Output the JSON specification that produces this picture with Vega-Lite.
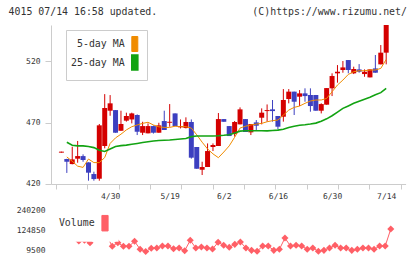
{
  "$schema": "https://vega.github.io/schema/vega-lite/v6.json",
  "background": "white",
  "padding": {"left": 8, "top": 6, "right": 5, "bottom": 2},
  "title": {
    "text": "4015 07/14 16:58 updated.\u00a0\u00a0\u00a0\u00a0\u00a0\u00a0\u00a0\u00a0\u00a0\u00a0\u00a0\u00a0\u00a0\u00a0\u00a0\u00a0(C)https://www.rizumu.net/",
    "anchor": "start",
    "font": "DejaVu Sans Mono",
    "fontSize": 9.9,
    "fontWeight": "normal",
    "color": "#333333",
    "offset": 8,
    "dx": -7.5
  },
  "datasets": {
    "candles": [
      {"i":0,"o":445.5,"c":446.3,"h":446.3,"l":445.5},
      {"i":1,"o":440.3,"c":438.1,"h":440.5,"l":429.0},
      {"i":2,"o":436.2,"c":440.0,"h":450.3,"l":436.0},
      {"i":3,"o":440.6,"c":442.7,"h":455.0,"l":437.3},
      {"i":4,"o":442.7,"c":439.5,"h":444.1,"l":438.1},
      {"i":5,"o":437.6,"c":429.2,"h":437.6,"l":422.7},
      {"i":6,"o":428.1,"c":424.0,"h":430.0,"l":422.7},
      {"i":7,"o":424.3,"c":467.7,"h":468.8,"l":422.7},
      {"i":8,"o":450.9,"c":481.8,"h":493.1,"l":449.0},
      {"i":9,"o":479.6,"c":485.6,"h":492.3,"l":475.5},
      {"i":10,"o":480.1,"c":461.7,"h":480.1,"l":461.7},
      {"i":11,"o":463.3,"c":468.8,"h":479.6,"l":463.3},
      {"i":12,"o":471.5,"c":475.3,"h":478.0,"l":470.7},
      {"i":13,"o":472.5,"c":477.4,"h":478.0,"l":469.3},
      {"i":14,"o":476.1,"c":462.5,"h":476.6,"l":459.8},
      {"i":15,"o":461.7,"c":467.1,"h":470.6,"l":459.8},
      {"i":16,"o":461.2,"c":467.1,"h":469.3,"l":461.2},
      {"i":17,"o":467.1,"c":461.7,"h":467.6,"l":461.0},
      {"i":18,"o":461.7,"c":467.7,"h":469.8,"l":461.7},
      {"i":19,"o":471.2,"c":463.9,"h":479.6,"l":463.9},
      {"i":20,"o":469.8,"c":470.6,"h":485.0,"l":466.6},
      {"i":21,"o":477.4,"c":467.1,"h":477.4,"l":467.1},
      {"i":22,"o":466.1,"c":467.1,"h":472.5,"l":465.2},
      {"i":23,"o":465.5,"c":470.4,"h":474.2,"l":465.2},
      {"i":24,"o":470.4,"c":441.4,"h":472.5,"l":440.6},
      {"i":25,"o":450.1,"c":432.4,"h":450.1,"l":432.4},
      {"i":26,"o":431.6,"c":433.8,"h":438.1,"l":427.3},
      {"i":27,"o":433.8,"c":446.8,"h":453.0,"l":433.8},
      {"i":28,"o":450.1,"c":451.7,"h":453.0,"l":446.8},
      {"i":29,"o":450.9,"c":472.8,"h":477.7,"l":450.9},
      {"i":30,"o":472.8,"c":470.6,"h":472.8,"l":470.6},
      {"i":31,"o":467.1,"c":459.0,"h":467.1,"l":459.0},
      {"i":32,"o":460.6,"c":470.4,"h":471.2,"l":458.5},
      {"i":33,"o":468.5,"c":480.7,"h":482.3,"l":468.5},
      {"i":34,"o":472.8,"c":462.3,"h":472.8,"l":462.3},
      {"i":35,"o":462.0,"c":468.8,"h":468.8,"l":459.8},
      {"i":36,"o":470.1,"c":467.4,"h":472.0,"l":463.9},
      {"i":37,"o":473.9,"c":478.0,"h":481.5,"l":468.5},
      {"i":38,"o":479.3,"c":480.1,"h":484.7,"l":470.7},
      {"i":39,"o":480.7,"c":479.3,"h":488.3,"l":470.7},
      {"i":40,"o":475.3,"c":466.6,"h":475.3,"l":464.4},
      {"i":41,"o":474.7,"c":488.3,"h":497.2,"l":470.7},
      {"i":42,"o":489.1,"c":495.1,"h":497.2,"l":485.6},
      {"i":43,"o":495.1,"c":486.9,"h":495.1,"l":476.1},
      {"i":44,"o":491.0,"c":493.7,"h":496.4,"l":483.4},
      {"i":45,"o":493.7,"c":491.5,"h":497.8,"l":486.9},
      {"i":46,"o":492.4,"c":483.4,"h":497.8,"l":478.8},
      {"i":47,"o":492.4,"c":479.6,"h":492.4,"l":479.6},
      {"i":48,"o":479.6,"c":485.0,"h":485.6,"l":477.4},
      {"i":49,"o":484.5,"c":498.0,"h":498.0,"l":484.5},
      {"i":50,"o":497.8,"c":507.8,"h":510.0,"l":491.5},
      {"i":51,"o":510.0,"c":511.3,"h":516.7,"l":502.4},
      {"i":52,"o":512.7,"c":514.8,"h":520.0,"l":510.5},
      {"i":53,"o":520.8,"c":512.7,"h":520.8,"l":510.0},
      {"i":54,"o":510.0,"c":513.5,"h":515.4,"l":509.4},
      {"i":55,"o":513.2,"c":511.3,"h":517.5,"l":510.5},
      {"i":56,"o":509.4,"c":511.3,"h":513.2,"l":507.2},
      {"i":57,"o":506.7,"c":513.2,"h":513.2,"l":506.7},
      {"i":58,"o":514.0,"c":510.5,"h":524.9,"l":510.5},
      {"i":59,"o":517.3,"c":526.8,"h":533.0,"l":517.3},
      {"i":60,"o":526.8,"c":549.3,"h":549.3,"l":517.3}
    ],
    "ma": [
      {"i":1,"5-day MA":442,"25-day MA":453.9},
      {"i":2,"5-day MA":438.5,"25-day MA":451.5},
      {"i":3,"5-day MA":434.5,"25-day MA":451},
      {"i":4,"5-day MA":433.5,"25-day MA":451},
      {"i":5,"5-day MA":440.3,"25-day MA":450.5},
      {"i":6,"5-day MA":437.4,"25-day MA":449.6},
      {"i":7,"5-day MA":437.4,"25-day MA":447.5},
      {"i":8,"5-day MA":441.5,"25-day MA":446.5},
      {"i":9,"5-day MA":453,"25-day MA":448.5},
      {"i":10,"5-day MA":457.5,"25-day MA":450.5},
      {"i":11,"5-day MA":460.5,"25-day MA":451.2},
      {"i":12,"5-day MA":464,"25-day MA":451.6},
      {"i":13,"5-day MA":466.6,"25-day MA":452.3},
      {"i":14,"5-day MA":468,"25-day MA":453},
      {"i":15,"5-day MA":469.3,"25-day MA":453.8},
      {"i":16,"5-day MA":470.2,"25-day MA":454.4},
      {"i":17,"5-day MA":468,"25-day MA":455},
      {"i":18,"5-day MA":466.5,"25-day MA":455.4},
      {"i":19,"5-day MA":466,"25-day MA":455.6},
      {"i":20,"5-day MA":466,"25-day MA":455.8},
      {"i":21,"5-day MA":467,"25-day MA":456.2},
      {"i":22,"5-day MA":466.6,"25-day MA":456.6},
      {"i":23,"5-day MA":466.6,"25-day MA":457},
      {"i":24,"5-day MA":465.5,"25-day MA":458.5},
      {"i":25,"5-day MA":460,"25-day MA":459},
      {"i":26,"5-day MA":454,"25-day MA":459},
      {"i":27,"5-day MA":448.5,"25-day MA":459},
      {"i":28,"5-day MA":444.5,"25-day MA":459},
      {"i":29,"5-day MA":441.4,"25-day MA":459.2},
      {"i":30,"5-day MA":446,"25-day MA":459.6},
      {"i":31,"5-day MA":451,"25-day MA":460.1},
      {"i":32,"5-day MA":458,"25-day MA":461.5},
      {"i":33,"5-day MA":465.5,"25-day MA":463},
      {"i":34,"5-day MA":467,"25-day MA":463.3},
      {"i":35,"5-day MA":468,"25-day MA":463.3},
      {"i":36,"5-day MA":468.7,"25-day MA":463.3},
      {"i":37,"5-day MA":469.3,"25-day MA":463.3},
      {"i":38,"5-day MA":470.6,"25-day MA":463.2},
      {"i":39,"5-day MA":471.5,"25-day MA":463.5},
      {"i":40,"5-day MA":472,"25-day MA":463.8},
      {"i":41,"5-day MA":476,"25-day MA":464.5},
      {"i":42,"5-day MA":480.1,"25-day MA":466},
      {"i":43,"5-day MA":482.3,"25-day MA":467},
      {"i":44,"5-day MA":483.4,"25-day MA":467.8},
      {"i":45,"5-day MA":485.6,"25-day MA":468.2},
      {"i":46,"5-day MA":487.5,"25-day MA":468.8},
      {"i":47,"5-day MA":488.3,"25-day MA":469.5},
      {"i":48,"5-day MA":488.3,"25-day MA":471},
      {"i":49,"5-day MA":489.6,"25-day MA":473},
      {"i":50,"5-day MA":495,"25-day MA":475.5},
      {"i":51,"5-day MA":500.5,"25-day MA":478.5},
      {"i":52,"5-day MA":504.5,"25-day MA":481.5},
      {"i":53,"5-day MA":509.1,"25-day MA":483.5},
      {"i":54,"5-day MA":511.3,"25-day MA":485.6},
      {"i":55,"5-day MA":512.1,"25-day MA":487.3},
      {"i":56,"5-day MA":512.1,"25-day MA":489},
      {"i":57,"5-day MA":512.7,"25-day MA":490.5},
      {"i":58,"5-day MA":512.7,"25-day MA":492.5},
      {"i":59,"5-day MA":514,"25-day MA":494.3},
      {"i":60,"5-day MA":521.3,"25-day MA":497.7}
    ],
    "vol": [
      {"i":0,"v":130000},{"i":1,"v":125000},{"i":2,"v":97000},{"i":3,"v":97000},
      {"i":4,"v":67200},{"i":5,"v":71200},{"i":6,"v":57400},{"i":7,"v":230000},
      {"i":8,"v":200000},{"i":9,"v":97000},{"i":10,"v":36600},{"i":11,"v":57400},
      {"i":12,"v":36600},{"i":13,"v":36600},{"i":14,"v":65400},{"i":15,"v":19300},
      {"i":16,"v":6500},{"i":17,"v":25100},{"i":18,"v":26800},{"i":19,"v":38300},
      {"i":20,"v":38300},{"i":21,"v":22800},{"i":22,"v":26800},{"i":23,"v":11200},
      {"i":24,"v":71200},{"i":25,"v":26800},{"i":26,"v":32600},{"i":27,"v":26800},
      {"i":28,"v":21000},{"i":29,"v":59700},{"i":30,"v":42400},{"i":31,"v":30700},
      {"i":32,"v":47900},{"i":33,"v":61400},{"i":34,"v":26800},{"i":35,"v":13300},
      {"i":36,"v":7600},{"i":37,"v":38300},{"i":38,"v":38300},{"i":39,"v":13300},
      {"i":40,"v":19100},{"i":41,"v":84500},{"i":42,"v":38300},{"i":43,"v":42200},
      {"i":44,"v":38300},{"i":45,"v":19100},{"i":46,"v":26800},{"i":47,"v":7600},
      {"i":48,"v":13300},{"i":49,"v":26800},{"i":50,"v":42200},{"i":51,"v":26800},
      {"i":52,"v":26800},{"i":53,"v":13300},{"i":54,"v":19100},{"i":55,"v":26800},
      {"i":56,"v":26800},{"i":57,"v":19100},{"i":58,"v":38300},{"i":59,"v":38300},
      {"i":60,"v":136000}
    ]
  },
  "spacing": 5,
  "vconcat": [
    {
      "width": 354.6,
      "height": 159,
      "resolve": {"axis": {"x": "independent"}},
      "layer": [
        {
          "data": {"name": "candles"},
          "mark": {"type": "rule", "strokeWidth": 1},
          "encoding": {
            "x": {
              "field": "i", "type": "quantitative",
              "scale": {"domain": [-1, 62.66], "nice": false, "zero": false},
              "axis": {
                "orient": "bottom",
                "values": [-1, 4.787, 10.575, 16.362, 22.149, 27.936, 33.724, 39.511, 45.298, 51.085, 56.873, 62.66],
                "labels": false,
                "tickSize": 5,
                "title": null
              }
            },
            "y": {
              "field": "l", "type": "quantitative",
              "scale": {"domain": [420, 549.3], "nice": false, "zero": false},
              "axis": {"values": [420, 470, 520], "tickSize": 6, "labelPadding": 5, "title": null}
            },
            "y2": {"field": "h"},
            "color": {"condition": {"test": "datum.c >= datum.o", "value": "#d40000"}, "value": "#3c3fc0"}
          }
        },
        {
          "data": {"name": "candles"},
          "mark": {"type": "bar", "size": 5},
          "encoding": {
            "x": {
              "field": "i", "type": "quantitative",
              "axis": {
                "orient": "bottom",
                "values": [9, 20, 30, 40, 50, 60],
                "labelExpr": "datum.value == 9 ? '4/30' : datum.value == 20 ? '5/19' : datum.value == 30 ? '6/2' : datum.value == 40 ? '6/16' : datum.value == 50 ? '6/30' : '7/14'",
                "domain": false,
                "ticks": false,
                "labelPadding": 9,
                "labelOverlap": false,
                "labelFlush": false,
                "title": null
              }
            },
            "y": {"field": "o", "type": "quantitative"},
            "y2": {"field": "c"},
            "color": {"condition": {"test": "datum.c >= datum.o", "value": "#d40000"}, "value": "#3c3fc0"}
          }
        },
        {
          "data": {"name": "ma"},
          "transform": [{"fold": ["5-day MA", "25-day MA"], "as": ["s", "m"]}],
          "mark": {"type": "line"},
          "encoding": {
            "x": {"field": "i", "type": "quantitative", "axis": null},
            "y": {"field": "m", "type": "quantitative"},
            "strokeWidth": {"field": "s", "type": "nominal", "scale": {"domain": ["5-day MA", "25-day MA"], "range": [1, 1.6]}, "legend": null},
            "color": {
              "field": "s", "type": "nominal",
              "scale": {"domain": ["5-day MA", "25-day MA"], "range": ["#f08c00", "#12a312"]},
              "legend": {
                "orient": "none", "legendX": 15, "legendY": 5,
                "title": null,
                "fillColor": "white", "strokeColor": "#cccccc", "padding": 6,
                "symbolType": "M-0.4,-1H0.4V1H-0.4Z", "symbolSize": 225,
                "labelFont": "DejaVu Sans Mono", "labelFontSize": 9.9, "labelColor": "#333333",
                "rowPadding": -4, "labelLimit": 200,
                "encoding": {
                  "labels": {"x": {"value": 52.6}, "align": {"value": "right"}},
                  "symbols": {
                    "x": {"value": 62.8},
                    "fill": {"value": {"expr": "datum.value === '5-day MA' ? '#f08c00' : '#12a312'"}},
                    "stroke": {"value": "#333333"},
                    "strokeWidth": {"value": 1},
                    "opacity": {"value": 1}
                  }
                }
              }
            }
          }
        }
      ]
    },
    {
      "width": 354.6,
      "height": 40,
      "data": {"name": "vol"},
      "encoding": {
        "x": {"field": "i", "type": "quantitative", "scale": {"domain": [-1, 62.66], "nice": false, "zero": false}, "axis": null},
        "y": {
          "field": "v", "type": "quantitative",
          "scale": {"domain": [9500, 240200], "nice": false, "zero": false},
          "axis": {"values": [9500, 124850, 240200], "format": "d", "domain": false, "ticks": false, "labelPadding": 6, "title": null}
        },
        "color": {
          "datum": "Volume", "type": "nominal",
          "scale": {"range": ["#ff5f66"]},
          "legend": {
            "orient": "none", "legendX": 0.6, "legendY": -4.3,
            "title": null,
            "fillColor": "white", "strokeColor": null, "padding": 8,
            "symbolType": "M-0.4,-1H0.4V1H-0.4Z", "symbolSize": 240,
            "labelFont": "DejaVu Sans Mono", "labelFontSize": 9.9, "labelColor": "#333333",
            "labelLimit": 200,
            "encoding": {
              "labels": {"x": {"value": 35}, "align": {"value": "right"}},
              "symbols": {
                "x": {"value": 45.4},
                "fill": {"value": "#ff5f66"},
                "stroke": {"value": "#333333"},
                "strokeWidth": {"value": 1},
                "opacity": {"value": 1}
              }
            }
          }
        }
      },
      "layer": [
        {"mark": {"type": "line", "strokeWidth": 1}},
        {"mark": {"type": "point", "shape": "diamond", "filled": true, "size": 50, "opacity": 1}}
      ]
    }
  ],
  "resolve": {"scale": {"color": "independent", "strokeWidth": "independent"}, "legend": {"color": "independent"}},
  "config": {
    "view": {"stroke": null},
    "font": "DejaVu Sans Mono",
    "axis": {
      "labelFont": "DejaVu Sans Mono", "labelFontSize": 8, "labelColor": "#333333",
      "domainColor": "#cccccc", "tickColor": "#cccccc", "grid": false, "domainWidth": 1, "tickWidth": 1
    },
    "legend": {"labelFont": "DejaVu Sans Mono", "labelFontSize": 9.9, "labelColor": "#333333"}
  }
}
